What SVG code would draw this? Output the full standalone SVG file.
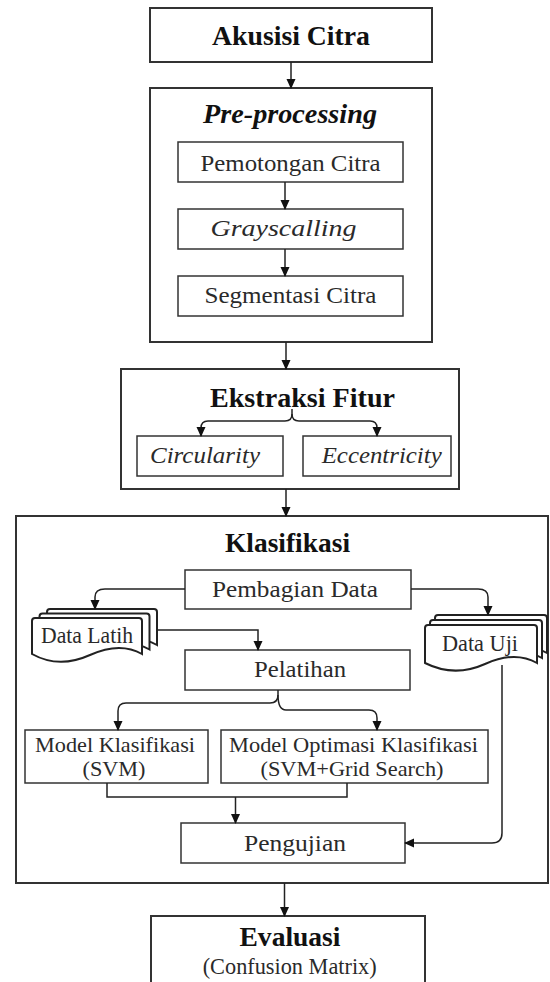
<svg xmlns="http://www.w3.org/2000/svg" width="550" height="982" viewBox="0 0 550 982">
<defs>
<marker id="ah" markerWidth="10" markerHeight="10" refX="9" refY="5" orient="auto" markerUnits="userSpaceOnUse">
<path d="M0,0.5 L10,5 L0,9.5 Z" fill="#111"/>
</marker>
<path id="docL" d="M0,3 Q0,0 3,0 H107 Q110,0 110,3 V36 C96,28 80,27 58,37 C38,46 18,46 0,36 Z"/>
<path id="docU" d="M0,3 Q0,0 3,0 H109 Q112,0 112,3 V38 C98,30 82,29 60,39 C40,48 20,48 0,38 Z"/>
</defs>
<style>
rect.b{fill:#fff;stroke:#333;stroke-width:1.5}
rect.o{fill:#fff;stroke:#333;stroke-width:2}
.doc{fill:#fff;stroke:#222;stroke-width:2}
.c{fill:none;stroke:#222;stroke-width:1.5}
.ca{fill:none;stroke:#222;stroke-width:1.5;marker-end:url(#ah)}
text{font-family:"Liberation Serif","Times New Roman",serif;text-anchor:middle;fill:#2a2a2a}
.t{font-weight:bold;font-size:27px;fill:#111}
.r{font-size:24px}
.m{font-size:21.5px}
.i{font-style:italic}
</style>
<rect width="550" height="982" fill="#fff"/>

<g id="akusisi">
<rect class="o" x="150" y="8" width="282" height="54"/>
<text class="t" x="291" y="45" textLength="158" lengthAdjust="spacingAndGlyphs">Akusisi Citra</text>
</g>

<g id="preprocessing">
<rect class="o" x="150" y="88" width="282" height="254"/>
<text class="t i" x="290" y="123" textLength="174" lengthAdjust="spacingAndGlyphs">Pre-processing</text>
</g>
<g id="pemotongan">
<rect class="b" x="178" y="142" width="225" height="40"/>
<text class="r" x="290.5" y="171" textLength="180" lengthAdjust="spacingAndGlyphs">Pemotongan Citra</text>
</g>
<g id="grayscalling">
<rect class="b" x="178" y="209" width="225" height="40"/>
<text class="r i" x="283.5" y="236" textLength="146" lengthAdjust="spacingAndGlyphs">Grayscalling</text>
</g>
<g id="segmentasi">
<rect class="b" x="178" y="276" width="225" height="40"/>
<text class="r" x="290.5" y="303" textLength="172" lengthAdjust="spacingAndGlyphs">Segmentasi Citra</text>
</g>

<g id="ekstraksi">
<rect class="o" x="121" y="369" width="338" height="120"/>
<text class="t" x="302.5" y="407" textLength="185" lengthAdjust="spacingAndGlyphs">Ekstraksi Fitur</text>
</g>
<g id="circularity">
<rect class="b" x="137" y="436" width="146" height="40"/>
<text class="r i" x="205" y="463" textLength="110" lengthAdjust="spacingAndGlyphs">Circularity</text>
</g>
<g id="eccentricity">
<rect class="b" x="303" y="436" width="148" height="40"/>
<text class="r i" x="381.7" y="463" textLength="120" lengthAdjust="spacingAndGlyphs">Eccentricity</text>
</g>

<g id="klasifikasi">
<rect class="o" x="16" y="516" width="532" height="367"/>
<text class="t" x="287.5" y="552" textLength="125" lengthAdjust="spacingAndGlyphs">Klasifikasi</text>
</g>
<g id="pembagian">
<rect class="b" x="185" y="570" width="226" height="39"/>
<text class="r" x="295" y="597" textLength="166" lengthAdjust="spacingAndGlyphs">Pembagian Data</text>
</g>
<g id="datalatih">
<use href="#docL" class="doc" x="47" y="609"/>
<use href="#docL" class="doc" x="39.5" y="613.5"/>
<use href="#docL" class="doc" x="32" y="618"/>
<text class="r" x="87" y="643" textLength="92" lengthAdjust="spacingAndGlyphs">Data Latih</text>
</g>
<g id="datauji">
<use href="#docU" class="doc" x="435" y="615"/>
<use href="#docU" class="doc" x="430" y="620"/>
<use href="#docU" class="doc" x="425" y="625"/>
<text class="r" x="480" y="651" textLength="76" lengthAdjust="spacingAndGlyphs">Data Uji</text>
</g>
<g id="pelatihan">
<rect class="b" x="185" y="650" width="225" height="40"/>
<text class="r" x="300" y="677" textLength="92" lengthAdjust="spacingAndGlyphs">Pelatihan</text>
</g>
<g id="modelsvm">
<rect class="b" x="25" y="730" width="183" height="53"/>
<text class="m" x="115" y="752" textLength="160" lengthAdjust="spacingAndGlyphs">Model Klasifikasi</text>
<text class="m" x="114" y="776" textLength="63" lengthAdjust="spacingAndGlyphs">(SVM)</text>
</g>
<g id="modeloptimasi">
<rect class="b" x="221" y="730" width="267" height="53"/>
<text class="m" x="353.5" y="752" textLength="249" lengthAdjust="spacingAndGlyphs">Model Optimasi Klasifikasi</text>
<text class="m" x="352" y="776" textLength="183" lengthAdjust="spacingAndGlyphs">(SVM+Grid Search)</text>
</g>
<g id="pengujian">
<rect class="b" x="181" y="823" width="224" height="40"/>
<text class="r" x="295" y="851" textLength="102" lengthAdjust="spacingAndGlyphs">Pengujian</text>
</g>

<g id="evaluasi">
<rect class="o" x="151" y="916" width="274" height="80"/>
<text class="t" x="290" y="946" textLength="101" lengthAdjust="spacingAndGlyphs">Evaluasi</text>
<text class="r" x="289.7" y="974" textLength="174" lengthAdjust="spacingAndGlyphs">(Confusion Matrix)</text>
</g>

<g id="connectors">
<path class="ca" d="M291,62 V88"/>
<path class="ca" d="M285,182 V209"/>
<path class="ca" d="M285,249 V276"/>
<path class="ca" d="M286,342 V369"/>
<path class="c" d="M292,409 V414"/>
<path class="ca" d="M292,414 Q292,421 285,421 H208 Q201,421 201,428 V436"/>
<path class="ca" d="M292,414 Q292,421 299,421 H370 Q377,421 377,428 V436"/>
<path class="ca" d="M286,489 V516"/>
<path class="ca" d="M185,589 H105 Q95,589 95,597 V609"/>
<path class="ca" d="M411,589 H478 Q488,589 488,597 V615"/>
<path class="ca" d="M157,630 H258 V650"/>
<path class="c" d="M278,690 V695"/>
<path class="ca" d="M278,695 Q278,703 270,703 H126 Q118,703 118,711 V730"/>
<path class="ca" d="M278,695 Q278,710 286,710 H369 Q377,710 377,718 V730"/>
<path class="c" d="M107,783 V797 H347 V783"/>
<path class="ca" d="M235.5,797 V823"/>
<path class="ca" d="M502,665 V833 Q502,843 492,843 H405"/>
<path class="ca" d="M284.5,883 V916"/>
</g>
</svg>
